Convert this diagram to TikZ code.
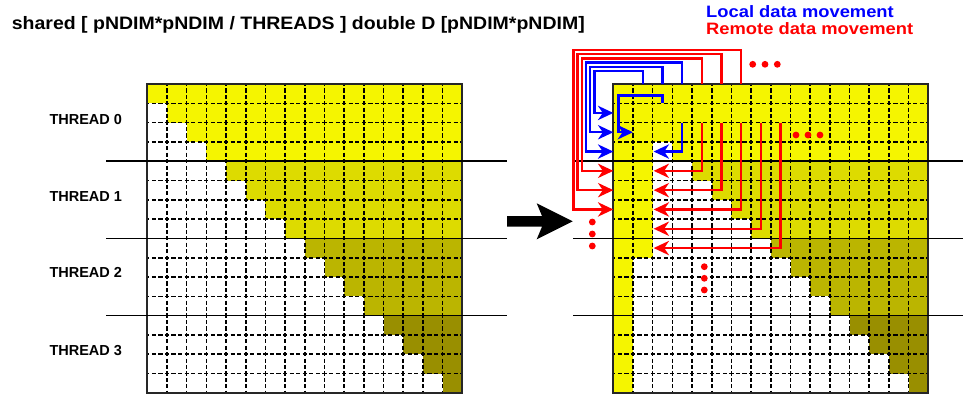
\documentclass[tikz,border=0pt]{standalone}
\usepackage{fontspec}
\setmainfont{Liberation Sans}
\usepackage{graphicx}
\usetikzlibrary{arrows.meta}
\definecolor{ya}{RGB}{245,245,0}
\definecolor{yb}{RGB}{221,219,0}
\definecolor{yc}{RGB}{187,181,0}
\definecolor{yd}{RGB}{153,143,0}
\definecolor{lblue}{RGB}{0,0,255}
\definecolor{lred}{RGB}{255,0,0}
\begin{document}
\begin{tikzpicture}[x=1pt,y=-1pt,
  hdash/.style={line width=1.6pt,dash pattern=on 4.2pt off 2.363pt,dash phase=2.1pt},
  vdash/.style={line width=1.6pt,dash pattern=on 4.2pt off 2.233pt,dash phase=2.1pt},
  border/.style={line width=2pt,black!85},
  threadline/.style={line width=1.5pt,black},
  mover/.style={line width=2.4pt,shorten >=10pt},
  localmove/.style={mover,draw=lblue},
  remotemove/.style={mover,draw=lred},
  dot/.style={fill=lred},
  threadlabel/.style={anchor=base west,inner sep=0pt,font=\bfseries\fontsize{14.5}{14.5}\selectfont},
  legendtext/.style={anchor=base west,inner sep=0pt,font=\bfseries\fontsize{16.5}{16.5}\selectfont}
]
\useasboundingbox (0,0) rectangle (963,396);
\def\gw{19.69}\def\gh{19.3}\def\gy{84}
\def\xl{147.3}\def\xr{613.3}
% arrow heads: #1 colour, #2 tip coordinate
\def\headright#1#2{\fill[#1,shift={#2}] (-15.5,-7.3) -- (0,0) -- (-15.5,7.3) -- (-10.5,0) -- cycle;}
\def\headleft#1#2{\fill[#1,shift={#2}] (15.5,-7.3) -- (0,0) -- (15.5,7.3) -- (10.5,0) -- cycle;}

% ---------- fills ----------
\foreach \x in {\xl,\xr}{
  \foreach \r in {0,...,15}{
    \pgfmathtruncatemacro\t{int(\r/4)}
    \ifcase\t \def\col{ya}\or \def\col{yb}\or \def\col{yc}\else \def\col{yd}\fi
    \fill[\col] ({\x+\r*\gw},{\gy+\r*\gh}) rectangle ({\x+16*\gw},{\gy+(\r+1)*\gh});
  }
}
% extra local copies in the right matrix
\fill[ya] (\xr,\gy) rectangle ({\xr+\gw},{\gy+16*\gh});
\fill[ya] ({\xr+\gw},\gy) rectangle ({\xr+2*\gw},{\gy+9*\gh});

% ---------- grid lines ----------
\foreach \x in {\xl,\xr}{
  \foreach \i in {1,...,15}{
    \draw[hdash] (\x,{\gy+\i*\gh}) -- ({\x+16*\gw},{\gy+\i*\gh});
    \draw[vdash] ({\x+\i*\gw},\gy) -- ({\x+\i*\gw},{\gy+16*\gh});
  }
  \draw[border] (\x,\gy) rectangle ({\x+16*\gw},{\gy+16*\gh});
}

% ---------- thread separators ----------
\foreach \k in {4,8,12}{
  \draw[threadline] (106,{\gy+\k*\gh}) -- (507,{\gy+\k*\gh});
  \draw[threadline] (573,{\gy+\k*\gh}) -- (963,{\gy+\k*\gh});
}

% ---------- texts ----------
\node[anchor=base west,inner sep=0pt,font=\bfseries\fontsize{18}{18}\selectfont] (title) at (11.7,30)
  {\scalebox{1.083}[1]{shared [ pNDIM*pNDIM / THREADS ] double D [pNDIM*pNDIM]}};
\node[threadlabel] (t0) at (49.3,124) {THREAD 0};
\node[threadlabel] (t1) at (49.3,201) {THREAD 1};
\node[threadlabel] (t2) at (49.3,277.7) {THREAD 2};
\node[threadlabel] (t3) at (49.3,355.7) {THREAD 3};
\node[legendtext,text=lblue] (leglocal) at (706,17.3) {\scalebox{1.112}[1]{Local data movement}};
\node[legendtext,text=lred] (legremote) at (706,34.3) {\scalebox{1.112}[1]{Remote data movement}};

% ---------- big arrow ----------
\fill[black] (507,216) -- (542,216) -- (536.7,203.3) -- (572.7,221.3) -- (536.7,239.3) -- (542,226.7) -- (507,226.7) -- cycle;

% ---------- outer movements ----------
\foreach \k/\xx/\yy in {1/594.3/71, 2/590.1/66.8, 3/585.9/62.6}{
  \coordinate (lt\k) at (\xr,{\gy+(\k+0.5)*\gh});
  \draw[localmove] ({\xr+(\k+0.5)*\gw},\gy) |- (\xx,\yy) |- (lt\k);
  \headright{lblue}{(lt\k)}
}
\foreach \k/\xx/\yy in {4/581.7/58.4, 5/577.5/54.2, 6/573.3/50}{
  \coordinate (rt\k) at (\xr,{\gy+(\k+0.5)*\gh});
  \draw[remotemove] ({\xr+(\k+0.5)*\gw},\gy) |- (\xx,\yy) |- (rt\k);
  \headright{lred}{(rt\k)}
}
% ---------- inner movements ----------
\coordinate (li1) at ({\xr+\gw},{\gy+2.5*\gh});
\draw[localmove] ({\xr+2.5*\gw},{\gy+\gh}) |- (618.3,95.5) |- (li1);
\headright{lblue}{(li1)}
\coordinate (li2) at ({\xr+2*\gw+1},{\gy+3.5*\gh});
\draw[localmove] ({\xr+3.5*\gw},{\gy+2*\gh}) |- (li2);
\headleft{lblue}{(li2)}
\foreach \k in {4,...,8}{
  \coordinate (ri\k) at ({\xr+2*\gw+1},{\gy+(\k+0.5)*\gh});
  \draw[remotemove] ({\xr+(\k+0.5)*\gw},{\gy+2*\gh}) |- (ri\k);
  \headleft{lred}{(ri\k)}
}

% ---------- dots ----------
\foreach \p in {(752.7,64.3),(765,64.3),(777.3,64.3),
                (796,135),(808,135),(820,135),
                (592.3,222),(592.3,234),(592.3,246),
                (704.3,266.7),(704.3,278.3),(704.3,290)}{
  \fill[dot] \p circle[radius=3.4pt];
}
\end{tikzpicture}
\end{document}
